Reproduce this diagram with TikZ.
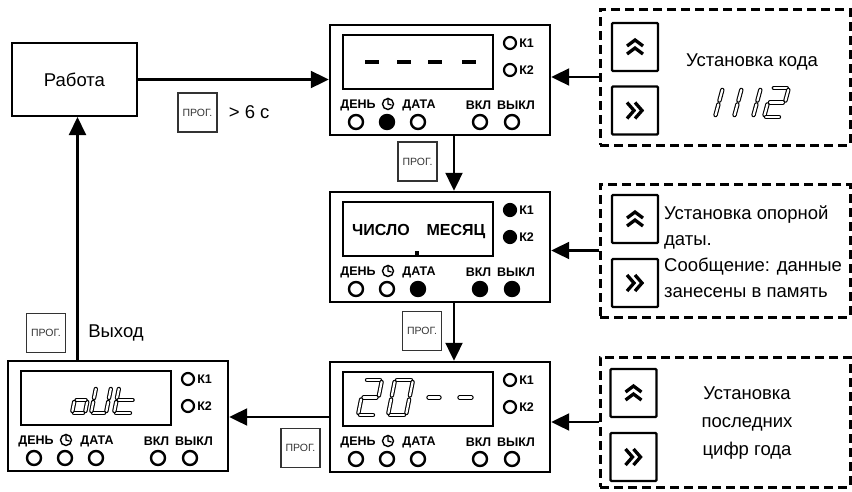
\documentclass[tikz,border=0pt]{standalone}
\usepackage{fontspec}
\setmainfont{Liberation Sans}
\usetikzlibrary{positioning, arrows.meta, calc}

\tikzset{
  box/.style={draw, line width=2pt, inner sep=0pt},
  panelbox/.style={draw, line width=2.4pt, minimum width=220pt, minimum height=110pt, inner sep=0pt},
  lcd/.style={draw, line width=2.8pt, minimum width=150pt, minimum height=54pt, inner sep=0pt},
  led/.style={circle, draw, line width=2.4pt, minimum size=14pt, inner sep=0pt},
  kled/.style={circle, draw, line width=2.2pt, minimum size=12pt, inner sep=0pt},
  tag/.style={font=\fontsize{12.5}{13}\selectfont\bfseries, inner sep=0pt},
  progbox/.style={draw=black!80, line width=1.3pt, minimum size=39pt, inner sep=0pt,
    font=\fontsize{10.5}{11}\selectfont, text=black!80},
  setbox/.style={draw, line width=3pt, dash pattern=on 9pt off 5pt, inner sep=0pt},
  keybox/.style={draw, line width=2.4pt, rounded corners=1pt, minimum width=46pt, minimum height=48pt},
  chev/.style={line width=3.3pt, line join=miter},
  flow/.style={line width=2.1pt, -{Triangle[length=18pt,width=17pt]}},
  seg/.style={line width=1.1pt, double distance=2.2pt, line cap=round, shorten <=2pt, shorten >=2pt},
  bigtext/.style={font=\fontsize{18.5}{26}\selectfont, inner sep=0pt},
}

% front panel: name, top left corner, fills of K1 K2 and the five LEDs
\newcommand{\panel}[9]{%
  \begin{scope}[shift={#2}]
    \node[panelbox] (#1) at (110,55) {};
    \node[lcd] (#1-lcd) at (88,37) {};
    \node[kled, fill=#3] (#1-k1) at (180,18) {};
    \node[tag, right=2pt of #1-k1] (#1-k1t) {К1};
    \node[kled, fill=#4] (#1-k2) at (180,45) {};
    \node[tag, right=2pt of #1-k2] (#1-k2t) {К2};
    \node[tag] (#1-day) at (28,80) {ДЕНЬ};
    \node[circle, draw, line width=1.4pt, minimum size=11pt, inner sep=0pt] (#1-clk) at (58,79) {};
    \draw[line width=1.3pt] (#1-clk.north) -- (#1-clk.center) -- ++(3.5,1);
    \node[tag] (#1-date) at (89,80) {ДАТА};
    \node[tag] (#1-on) at (148.5,80) {ВКЛ};
    \node[tag] (#1-off) at (186,80) {ВЫКЛ};
    \node[led, fill=#5] (#1-l1) at (26,97) {};
    \node[led, fill=#6] (#1-l2) at (57,97) {};
    \node[led, fill=#7] (#1-l3) at (88,97) {};
    \node[led, fill=#8] (#1-l4) at (150,97) {};
    \node[led, fill=#9] (#1-l5) at (182,97) {};
  \end{scope}}

% seven segment digit: [slant] bottom left, width, height, segments
\newcommand{\segdigit}[5][0.2]{%
  \begin{scope}[shift={#2}, xslant=#1]
    \foreach \s in {#5} {
      \ifcase\s
        \draw[seg] (0,-#4) -- (#3,-#4);
      \or \draw[seg] (#3,-#4) -- (#3,-#4/2);
      \or \draw[seg] (#3,-#4/2) -- (#3,0);
      \or \draw[seg] (0,0) -- (#3,0);
      \or \draw[seg] (0,0) -- (0,-#4/2);
      \or \draw[seg] (0,-#4/2) -- (0,-#4);
      \or \draw[seg] (0,-#4/2) -- (#3,-#4/2);
      \fi}
  \end{scope}}

\newcommand{\upmark}[1]{%
  \draw[chev] ([shift={(-8,-1)}]#1.center) -- ++(8,-6) -- ++(8,6)
              ([shift={(-8,7)}]#1.center) -- ++(8,-6) -- ++(8,6);}
\newcommand{\nextmark}[1]{%
  \draw[chev] ([shift={(-8,-8)}]#1.center) -- ++(7,8) -- ++(-7,8)
              ([shift={(0,-8)}]#1.center) -- ++(7,8) -- ++(-7,8);}

\begin{document}
\begin{tikzpicture}[x=1pt, y=-1pt]
  \useasboundingbox (0,0) rectangle (852,491);

  \node[box, minimum width=125pt, minimum height=73pt, font=\fontsize{18.5}{22}\selectfont] (work) at (74.5,79.5) {Работа};

  \panel{p1}{(330,25)}{white}{white}{white}{black}{white}{white}{white}
  \panel{p2}{(330,192)}{black}{black}{white}{white}{black}{black}{black}
  \panel{p3}{(330,362)}{white}{white}{white}{white}{white}{white}{white}
  \panel{p4}{(8,361)}{white}{white}{white}{white}{white}{white}{white}

  % display contents
  \foreach \x in {365,397,428,462}
    \draw[line width=3.6pt] (\x,62) -- ++(14,0);
  \node[font=\fontsize{16}{16}\selectfont\bfseries, inner sep=0pt, anchor=base] (p2-dd) at (381,235) {ЧИСЛО};
  \node[font=\fontsize{16}{16}\selectfont\bfseries, inner sep=0pt, anchor=base] (p2-mm) at (456,235) {МЕСЯЦ};
  \fill (415,251) rectangle ++(4,4);
  \segdigit{(358,415)}{17}{35}{0,1,6,4,3}
  \segdigit{(388,415)}{18}{35}{0,1,2,3,4,5}
  \segdigit{(423,415)}{15}{35}{6}
  \segdigit{(454,415)}{16}{35}{6}
  \segdigit{(72,413)}{13}{26}{2,3,4,6}
  \segdigit{(91,413)}{15}{26}{1,2,3,4,5}
  \segdigit{(114,413)}{18}{26}{3,4,5,6}

  % settings
  \node[setbox, minimum width=250pt, minimum height=136pt] (set1) at (725,77) {};
  \node[setbox, minimum width=250pt, minimum height=133pt] (set2) at (725,250.5) {};
  \node[setbox, minimum width=250pt, minimum height=130pt] (set3) at (725,422) {};

  \node[keybox] (up1) at (635,47) {};
  \node[keybox] (nx1) at (635,110.5) {};
  \node[keybox] (up2) at (635,219) {};
  \node[keybox] (nx2) at (635,283) {};
  \node[keybox] (up3) at (633.5,393) {};
  \node[keybox] (nx3) at (633.5,457) {};
  \upmark{up1} \upmark{up2} \upmark{up3}
  \nextmark{nx1} \nextmark{nx2} \nextmark{nx3}

  \node[bigtext] (code) at (752,62) {Установка кода};
  \segdigit[0.27]{(705,117)}{10}{29}{1,2}
  \segdigit[0.27]{(724,117)}{10}{29}{1,2}
  \segdigit[0.27]{(743,117)}{10}{29}{1,2}
  \segdigit[0.27]{(764,117)}{17}{29}{0,1,6,4,3}
  \node[bigtext, align=left, anchor=west] (datetxt) at (664,252)
    {Установка опорной\\даты.\\Сообщение: данные\\занесены в память};
  \node[bigtext, font=\fontsize{18.5}{28}\selectfont, align=center] (yeartxt) at (747,423)
    {Установка\\последних\\цифр года};

  % keys on the arrows
  \node[progbox] (prog1) at (197.5,112.5) {ПРОГ.};
  \node[bigtext, right=11pt of prog1] (hold) {> 6 с};
  \node[progbox] (prog2) at (417.5,161.5) {ПРОГ.};
  \node[progbox] (prog3) at (422,331) {ПРОГ.};
  \node[progbox] (prog4) at (300.5,448) {ПРОГ.};
  \node[progbox] (prog5) at (46,333) {ПРОГ.};
  \node[bigtext, right=22pt of prog5] (exit) {Выход};

  % flow
  \draw[flow] (work.east) -- (work.east -| p1.west);
  \draw[flow] ([xshift=14pt]p1.south) -- ([xshift=14pt]p2.north);
  \draw[flow] ([xshift=14pt]p2.south) -- ([xshift=14pt]p3.north);
  \draw[flow] (p3.west) -- (p3.west -| p4.east);
  \draw[flow] ([xshift=3pt]work.south |- p4.north) -- ([xshift=3pt]work.south);
  \draw[flow] (set1.west) -- (set1.west -| p1.east);
  \draw[flow] (set2.west) -- (set2.west -| p2.east);
  \draw[flow] (set3.west) -- (set3.west -| p3.east);
\end{tikzpicture}
\end{document}
